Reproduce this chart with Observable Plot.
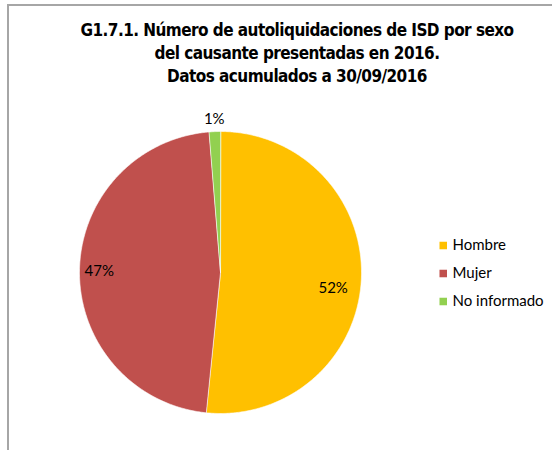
<!DOCTYPE html>
<html>
<head>
<meta charset="utf-8">
<script src="https://cdn.jsdelivr.net/npm/d3@7"></script>
<script src="https://cdn.jsdelivr.net/npm/@observablehq/plot@0.6"></script>
<style>
  html, body { margin: 0; padding: 0; width: 552px; height: 450px; overflow: hidden; background: #fff; }
  #frame { position: absolute; left: 7px; top: 4px; width: 560px; height: 460px;
           border-top: 2px solid #a6a6a6; border-left: 2px solid #a6a6a6; }
  #title { position: absolute; left: 42px; top: 19px; width: 510px; text-align: center;
           font-family: "Liberation Sans Narrow", "Arial Narrow", "DejaVu Sans Condensed", sans-serif;
           font-weight: bold; font-size: 17px; letter-spacing: -0.55px; line-height: 23px; color: #000; }
  #pie { position: absolute; left: 50px; top: 102px; }
  #legend { position: absolute; left: 434px; top: 230px; }
  svg { overflow: visible; }
</style>
</head>
<body>
<div id="frame"></div>
<div id="title">G1.7.1. Número de autoliquidaciones de ISD por sexo<br>del causante presentadas en 2016.<br>Datos acumulados a 30/09/2016</div>
<div id="pie"></div>
<div id="legend"></div>
<script>
// ---- data ----
const categories = ["Hombre", "Mujer", "No informado"];
const values = [51.6, 47.1, 1.3];
const labels = ["52%", "47%", "1%"];
const colors = ["#FFC000", "#C0504D", "#92D050"];

// ---- label placement (style, not data) ----
const labelRadius = {"Hombre": 0.8, "Mujer": 0.86, "No informado": 1.085};
const labelDy = {"Hombre": 10, "Mujer": 0, "No informado": 0};

const arcs = d3.pie().sort(null).value((d, i) => values[i])(categories);
const pt = (a, k) => [k * Math.sin(a), -k * Math.cos(a)];

const slices = arcs.map((a, i) => {
  const ring = [[0, 0]];
  const n = Math.max(4, Math.ceil((a.endAngle - a.startAngle) / (Math.PI / 360)));
  for (let j = 0; j <= n; j++) ring.push(pt(a.startAngle + (a.endAngle - a.startAngle) * j / n, 1));
  ring.push([0, 0]);
  return {type: "Feature", properties: {name: categories[i]}, geometry: {type: "Polygon", coordinates: [ring]}};
});

const labelData = arcs.map((a, i) => {
  const mid = (a.startAngle + a.endAngle) / 2;
  const p = pt(mid, labelRadius[categories[i]]);
  return {name: categories[i], text: labels[i], x: p[0], y: p[1]};
});

const pie = Plot.plot({
  width: 340,
  height: 340,
  margin: 0,
  projection: {type: "identity", inset: 29, domain: {type: "MultiPoint", coordinates: [[-1, -1], [1, 1]]}},
  color: {domain: categories, range: colors},
  marks: [
    Plot.geo(slices, {fill: d => d.properties.name, stroke: "white", strokeWidth: 0.6}),
    ...labelData.map(d => Plot.text([d], {x: "x", y: "y", text: "text", dy: labelDy[d.name], fontSize: 15,
      fontFamily: "Lato, 'Open Sans', sans-serif", fill: "#000"}))
  ],
  style: {background: "transparent", overflow: "visible"}
});
document.getElementById("pie").append(pie);

const legend = Plot.plot({
  width: 118,
  height: 90,
  margin: 0,
  y: {type: "point", domain: categories, range: [14.5, 71], padding: 0, axis: null},
  color: {domain: categories, range: colors},
  marks: [
    Plot.dot(categories, {y: d => d, frameAnchor: "left", dx: 8.75, symbol: "square", r: 4.25, fill: d => d}),
    Plot.text(categories, {y: d => d, frameAnchor: "left", dx: 18, textAnchor: "start", fontSize: 15,
      fontFamily: "Lato, 'Open Sans', sans-serif", fill: "#000"})
  ],
  style: {background: "transparent", overflow: "visible"}
});
document.getElementById("legend").append(legend);
</script>
</body>
</html>
